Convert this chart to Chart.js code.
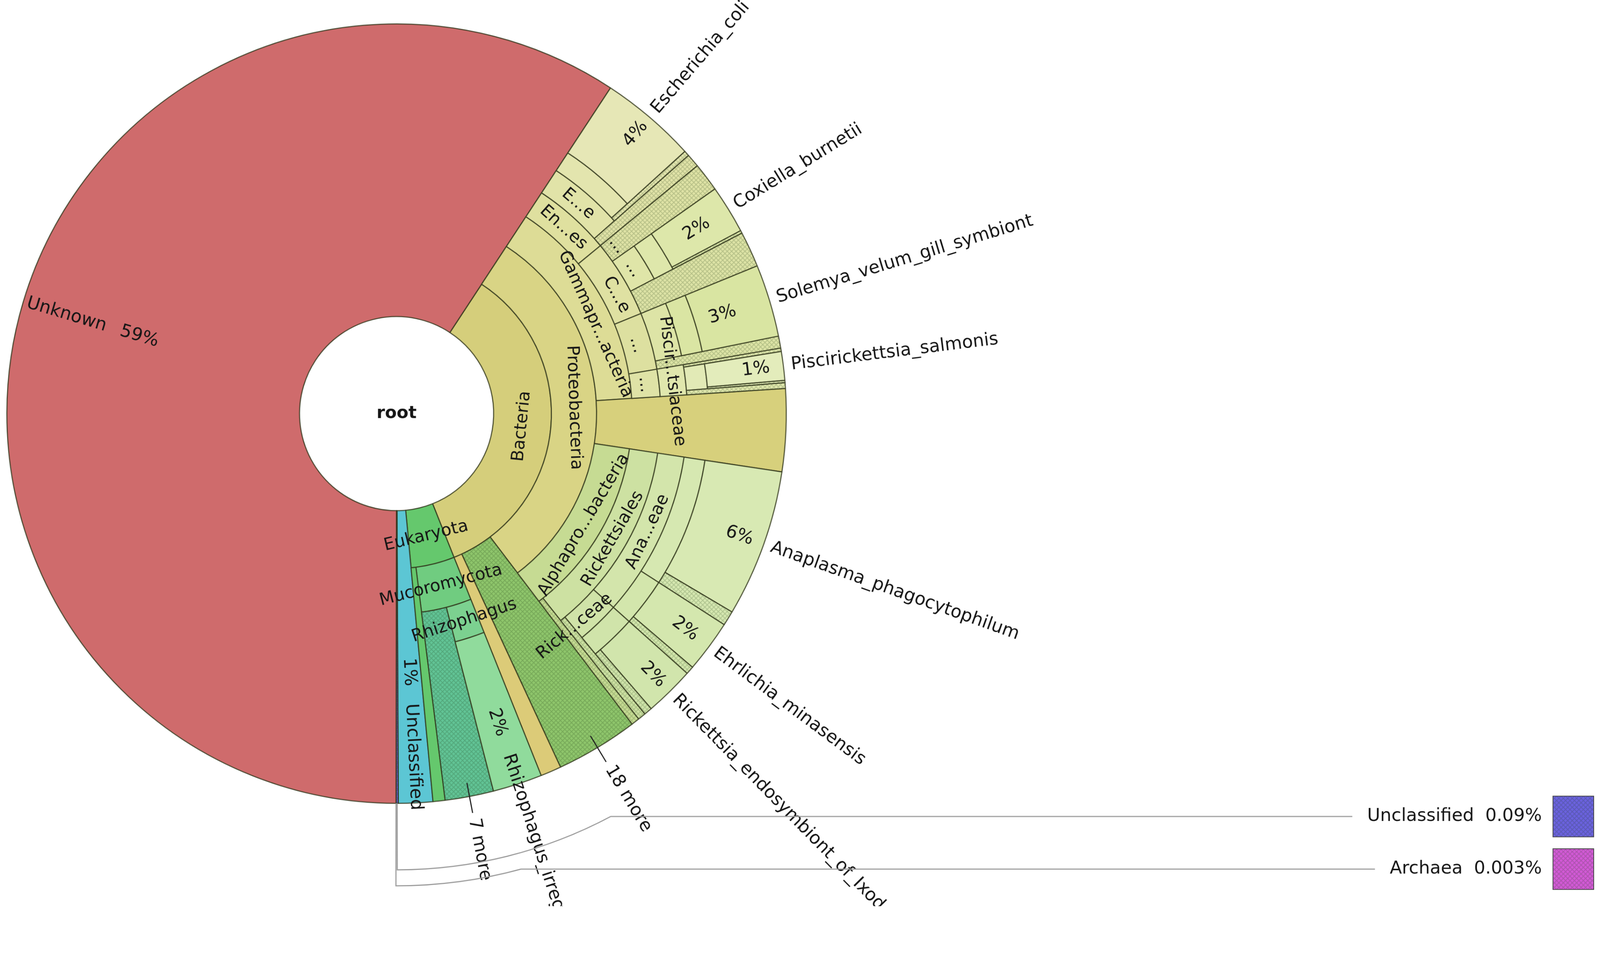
<!DOCTYPE html>
<html>
<head>
<meta charset="utf-8">
<title>Krona</title>
<script src="https://cdn.jsdelivr.net/npm/chart.js@4.4.0/dist/chart.umd.min.js"></script>
<style>
  html, body { margin: 0; padding: 0; background: #fff; overflow: hidden; }
  /* the drawing buffer is 4317x2445; show it at whatever size the window really is */
  #krona { display: block; width: 100vw !important; height: calc(100vw * 2445 / 4317) !important; }
</style>
</head>
<body>
<canvas id="krona" width="4317" height="2445"></canvas>
<script>
// one array pair per ring, clockwise from the Bacteria edge. values are % of all reads.
// '' = empty slot: the node below it is a leaf and runs out to the rim.
const kingdomNames  = ['Bacteria', 'Eukaryota', 'Unclassified', 'Unclassified', 'Archaea', 'Unknown'];
const kingdomValues = [34.70, 4.56, 1.42, 0.09, 0.003, 59.227];

const phylumNames  = ['Proteobacteria', '18 more', 'Bacteria', 'Mucoromycota', 'Eukaryota', '', '', '', ''];
const phylumValues = [30.42, 3.42, 0.86, 4.06, 0.50, 1.42, 0.09, 0.003, 59.227];

const classNames  = ['Gammaproteobacteria', 'Proteobacteria', 'Alphaproteobacteria', '', '', 'Rhizophagus', '7 more', '', '', '', '', ''];
const classValues = [14.72, 3.42, 12.28, 3.42, 0.86, 2.05, 2.01, 0.50, 1.42, 0.09, 0.003, 59.227];

const orderNames  = ['Enterobacterales', 'C...e', '...', '...', '', 'Rickettsiales', 'Alphaproteobacteria', '', '',
                     'Rhizophagus_irregularis', '', '', '', '', '', ''];
const orderValues = [4.78, 4.78, 3.50, 1.66, 3.42, 11.94, 0.34, 3.42, 0.86, 2.05, 2.01, 0.50, 1.42, 0.09, 0.003, 59.227];

const familyNames  = ['Enterobacteriaceae', 'Enterobacterales', '...', 'Coxiellaceae', 'C...e', '...', '...', 'Piscirickettsiaceae', '',
                      'Anaplasmataceae', 'Rickettsiaceae', 'Rickettsiales', '', '', '', '', '', '', '', '', '', ''];
const familyValues = [4.22, 0.56, 1.19, 2.11, 1.48, 3.00, 0.50, 1.66, 3.42, 9.22, 2.39, 0.33, 0.34,
                      3.42, 0.86, 2.05, 2.01, 0.50, 1.42, 0.09, 0.003, 59.227];

const genusNames  = ['Escherichia', 'Enterobacteriaceae', '', '', 'Coxiella', '', '...', '', 'Piscirickettsiaceae', 'Piscirickettsia',
                     'Piscirickettsiaceae', '', 'Anaplasma', 'Ehrlichia', 'Rickettsia', '', '', '', '', '', '', '', '', '', '', ''];
const genusValues = [4.00, 0.22, 0.56, 1.19, 2.11, 1.48, 3.00, 0.50, 0.14, 1.28, 0.24, 3.42, 6.72, 2.50, 2.39, 0.33, 0.34,
                     3.42, 0.86, 2.05, 2.01, 0.50, 1.42, 0.09, 0.003, 59.227];

const speciesNames  = ['Escherichia_coli', '', '', '', 'Coxiella_burnetii', 'Coxiella', '', 'Solemya_velum_gill_symbiont', '', '',
                       'Piscirickettsia_salmonis', 'Piscirickettsia', '', '', 'Anaplasma_phagocytophilum', 'Anaplasma',
                       'Ehrlichia_minasensis', 'Ehrlichia', 'Rickettsia_endosymbiont_of_Ixodes_scapularis', 'Rickettsia', '', '',
                       '', '', '', '', '', '', '', '', ''];
const speciesValues = [4.00, 0.22, 0.56, 1.19, 2.00, 0.11, 1.48, 3.00, 0.50, 0.14, 1.19, 0.09, 0.24, 3.42,
                       6.11, 0.61, 2.17, 0.33, 2.06, 0.33, 0.33, 0.34,
                       3.42, 0.86, 2.05, 2.01, 0.50, 1.42, 0.09, 0.003, 59.227];

// ---- styling ----
const FONT = '"DejaVu Sans", Verdana, sans-serif';
const OUTLINE = 'rgba(48,52,26,0.78)';
const T = 'rgba(0,0,0,0)';

function hatch(base) {
  const c = document.createElement('canvas');
  c.width = c.height = 12;
  const g = c.getContext('2d');
  g.fillStyle = base;
  g.fillRect(0, 0, 12, 12);
  g.strokeStyle = 'rgba(30,60,20,0.2)';
  g.lineWidth = 2;
  g.beginPath();
  g.moveTo(0, 12); g.lineTo(12, 0);
  g.moveTo(-6, 6); g.lineTo(6, -6);
  g.moveTo(6, 18); g.lineTo(18, 6);
  g.moveTo(0, 0); g.lineTo(12, 12);
  g.moveTo(-6, 6); g.lineTo(6, 18);
  g.moveTo(6, -6); g.lineTo(18, 6);
  g.stroke();
  return g.createPattern(c, 'repeat');
}

const kingdomColors = ['#d5ce7b', '#65c86d', '#5cc6d4', hatch('#6b62de'), hatch('#d25ad6'), '#cf6b6c'];
const phylumColors  = ['#d9d485', hatch('#8fc66c'), '#dccb78', '#70cc80', '#65c86d', T, T, T, T];
const classColors   = ['#dddc96', '#d7d07c', '#c6db93', T, T, '#7cd190', hatch('#62c496'), T, T, T, T, T];
const orderColors   = ['#dfe09f', '#dfe1a2', '#dde0a0', '#dfe3a6', T, '#cde1a2', hatch('#c6db93'), T, T,
                       '#90db9c', T, T, T, T, T, T];
const familyColors  = ['#e1e3a8', hatch('#e1e3a8'), hatch('#dfe3a6'), '#dfe5a8', hatch('#dde3a6'), '#dde4a6', hatch('#dde4a6'),
                       '#e0e7ad', T, '#d3e5ab', '#d0e3a8', hatch('#cde1a2'), T, T, T, T, T, T, T, T, T, T];
const genusColors   = ['#e3e5ae', hatch('#e3e5ae'), T, T, '#dee7ab', T, '#dae5a3', T, hatch('#e0e7ad'), '#e2eab6',
                       hatch('#e0e7ad'), T, '#d6e8b1', '#d3e6ac', '#d0e4aa', T, T, T, T, T, T, T, T, T, T, T];
const speciesColors = ['#e6e7b6', T, T, T, '#dde7aa', hatch('#dde7aa'), T, '#d9e5a2', T, T, '#e3ecbb', hatch('#e2eab6'), T, T,
                       '#d8e9b3', hatch('#d6e8b1'), '#d4e7ae', hatch('#d3e6ac'), '#d1e5ac', hatch('#d0e4aa'), T, T,
                       T, T, T, T, T, T, T, T, T];

// ring thickness, innermost ring first (pixels of the reference)
const ringWeights = [156, 122, 96, 77, 72, 57, 210];

// labels drawn along a ring: [ring, slot, text, angle shift in degrees]
const ringLabels = [
  [1, 0, 'Bacteria', 0],
  [1, 1, 'Eukaryota', 0],
  [2, 0, 'Proteobacteria', 0],
  [2, 3, 'Mucoromycota', 0],
  [3, 0, 'Gammapr...acteria', 6],
  [3, 2, 'Alphapro...bacteria', 0],
  [3, 5, 'Rhizophagus', 0],
  [4, 0, 'En...es', 0],
  [4, 1, 'C...e', 2.5],
  [4, 2, '...', 0],
  [4, 3, '...', 0],
  [4, 5, 'Rickettsiales', 0],
  [5, 0, 'E...e', 0],
  [5, 2, '...', 0],
  [5, 3, '...', 0],
  [5, 7, 'Piscir...tsiaceae', 0],
  [5, 9, 'Ana...eae', 0],
  [5, 10, 'Rick...ceae', 4]
];

// radial leaf labels: [ring, slot, percent, name, percent radius, name radius] (fractions of the rim)
const leafLabels = [
  [7, 0, '4%', 'Escherichia_coli', 0.98, 1.02],
  [7, 4, '2%', 'Coxiella_burnetii', 0.94, 1.02],
  [7, 7, '3%', 'Solemya_velum_gill_symbiont', 0.91, 1.02],
  [7, 10, '1%', 'Piscirickettsia_salmonis', 0.965, 1.02],
  [7, 14, '6%', 'Anaplasma_phagocytophilum', 0.97, 1.02],
  [7, 16, '2%', 'Ehrlichia_minasensis', 0.96, 1.02],
  [7, 18, '2%', 'Rickettsia_endosymbiont_of_Ixodes_scapularis', 0.975, 1.02],
  [4, 9, '2%', 'Rhizophagus_irregularis', 0.87, 0.92],
  [1, 2, '1%', 'Unclassified', 0.70, 0.745],
  [1, 5, '59%', 'Unknown', 0.74, 0.99]
];

// collapsed groups with a short leader line
const moreLabels = [
  [2, 1, '18 more'],
  [3, 6, '7 more']
];

// nodes too thin to label in place
const tinyNodes = [
  [1, 3, 'Unclassified', '0.09%'],
  [1, 4, 'Archaea', '0.003%']
];
const tinyLayout = [
  { r: 1231, y: 2203 },
  { r: 1274, y: 2345 }
];

const TAU = Math.PI * 2;
const norm = a => ((a % TAU) + TAU) % TAU;

function ringArc(chart, ring, slot) {
  const meta = chart.getDatasetMeta(7 - ring);
  return { arc: meta.data[slot], ctrl: meta.controller };
}

function putText(ctx, arc, text, r, a, rot, align) {
  ctx.save();
  ctx.translate(arc.x + r * Math.cos(a), arc.y + r * Math.sin(a));
  ctx.rotate(rot);
  ctx.textAlign = align;
  ctx.textBaseline = 'middle';
  ctx.fillText(text, 0, 0);
  ctx.restore();
}

// leaves keep going to the rim, as Krona draws them
const kronaLeaves = {
  id: 'kronaLeaves',
  afterDatasetsUpdate(chart) {
    const n = chart.data.datasets.length;
    const rim = chart.getDatasetMeta(0).controller.outerRadius;
    for (let d = 1; d < n; d++) {
      const names = chart.data.datasets[d].names;
      const outerNames = chart.data.datasets[d - 1].names;
      const outerArcs = chart.getDatasetMeta(d - 1).data;
      chart.getDatasetMeta(d).data.forEach((arc, i) => {
        if (!names[i]) return;
        const j = outerArcs.findIndex(o => Math.abs(o.startAngle - arc.startAngle) < 1e-6);
        if (j >= 0 && !outerNames[j]) arc.outerRadius = rim;
      });
    }
  }
};

const kronaLabels = {
  id: 'kronaLabels',
  afterDatasetsDraw(chart) {
    const ctx = chart.ctx;
    const rim = chart.getDatasetMeta(0).controller.outerRadius;
    ctx.save();
    ctx.fillStyle = '#161616';

    ctx.font = '46px ' + FONT;
    ringLabels.forEach(([ring, slot, text, shift]) => {
      const { arc, ctrl } = ringArc(chart, ring, slot);
      const a = (arc.startAngle + arc.endAngle) / 2 + shift * Math.PI / 180;
      const r = (ctrl.innerRadius + ctrl.outerRadius) / 2;
      const theta = norm(a + Math.PI / 2);
      let rot = a + Math.PI / 2;
      if (theta > Math.PI / 2 && theta < 1.5 * Math.PI) rot -= Math.PI;
      putText(ctx, arc, text, r, a, rot, 'center');
    });

    ctx.font = '48px ' + FONT;
    leafLabels.forEach(([ring, slot, pct, name, pctR, nameR]) => {
      const { arc } = ringArc(chart, ring, slot);
      const a = (arc.startAngle + arc.endAngle) / 2;
      const left = norm(a + Math.PI / 2) > Math.PI;
      const rot = left ? a + Math.PI : a;
      putText(ctx, arc, pct, pctR * rim, a, rot, left ? 'left' : 'right');
      putText(ctx, arc, name, nameR * rim, a, rot, 'left');
    });

    ctx.strokeStyle = '#222';
    ctx.lineWidth = 3;
    moreLabels.forEach(([ring, slot, text]) => {
      const { arc } = ringArc(chart, ring, slot);
      const a = (arc.startAngle + arc.endAngle) / 2;
      ctx.beginPath();
      ctx.moveTo(arc.x + 0.965 * rim * Math.cos(a), arc.y + 0.965 * rim * Math.sin(a));
      ctx.lineTo(arc.x + 1.043 * rim * Math.cos(a), arc.y + 1.043 * rim * Math.sin(a));
      ctx.stroke();
      putText(ctx, arc, text, 1.058 * rim, a, a, 'left');
    });

    // tiny nodes: radial drop, arc round the rim, then out to a swatch on the right
    const textRight = 4160, swatchX = 4190, swatch = 110;
    tinyNodes.forEach(([ring, slot, name, pct], k) => {
      const { arc } = ringArc(chart, ring, slot);
      const L = tinyLayout[k];
      const a = (arc.startAngle + arc.endAngle) / 2;
      const label = name + '  ' + pct;
      const start = textRight - ctx.measureText(label).width;
      ctx.strokeStyle = '#9c9c9c';
      ctx.lineWidth = 3;
      ctx.beginPath();
      ctx.moveTo(arc.x + rim * Math.cos(a), arc.y + rim * Math.sin(a));
      ctx.lineTo(arc.x + L.r * Math.cos(a), arc.y + L.r * Math.sin(a));
      ctx.arc(arc.x, arc.y, L.r, a, Math.asin((L.y - arc.y) / L.r), true);
      ctx.lineTo(start - 40, L.y);
      ctx.stroke();
      ctx.textAlign = 'right';
      ctx.textBaseline = 'middle';
      ctx.fillText(label, textRight, L.y);
      ctx.fillStyle = arc.options.backgroundColor;
      ctx.fillRect(swatchX, L.y - swatch / 2, swatch, swatch);
      ctx.strokeStyle = '#444';
      ctx.lineWidth = 2;
      ctx.strokeRect(swatchX, L.y - swatch / 2, swatch, swatch);
      ctx.fillStyle = '#161616';
    });

    const c = chart.getDatasetMeta(0).data[0];
    ctx.font = 'bold 46px ' + FONT;
    ctx.textAlign = 'center';
    ctx.textBaseline = 'middle';
    ctx.fillText('root', c.x, c.y);
    ctx.restore();
  }
};

function ring(names, values, colors, weight) {
  return {
    names: names,
    data: values,
    backgroundColor: colors,
    borderColor: OUTLINE,
    borderWidth: names.map(n => (n ? 3 : 0)),
    hoverBorderWidth: names.map(n => (n ? 3 : 0)),
    hoverOffset: 0,
    weight: weight
  };
}

new Chart(document.getElementById('krona'), {
  type: 'doughnut',
  data: {
    datasets: [
      ring(speciesNames, speciesValues, speciesColors, ringWeights[6]),
      ring(genusNames, genusValues, genusColors, ringWeights[5]),
      ring(familyNames, familyValues, familyColors, ringWeights[4]),
      ring(orderNames, orderValues, orderColors, ringWeights[3]),
      ring(classNames, classValues, classColors, ringWeights[2]),
      ring(phylumNames, phylumValues, phylumColors, ringWeights[1]),
      ring(kingdomNames, kingdomValues, kingdomColors, ringWeights[0])
    ]
  },
  options: {
    responsive: false,
    devicePixelRatio: 1,
    animation: false,
    events: [],
    rotation: 33.3,
    cutout: '24.9%',
    layout: { padding: { left: 17, top: 63, right: 2194, bottom: 276 } },
    plugins: { legend: { display: false }, tooltip: { enabled: false } }
  },
  plugins: [kronaLeaves, kronaLabels]
});
</script>
</body>
</html>
